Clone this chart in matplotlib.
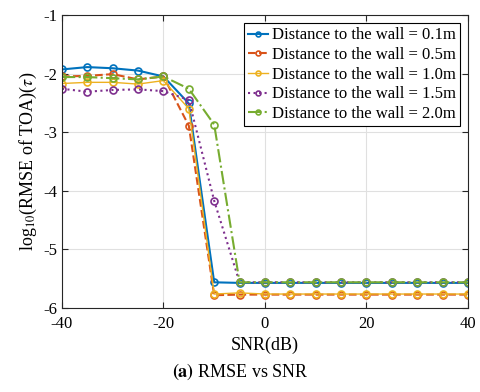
import numpy as np
import matplotlib.pyplot as plt

plt.rcParams['font.family'] = ['Liberation Serif', 'DejaVu Serif']
plt.rcParams['mathtext.fontset'] = 'stix'
plt.rcParams['axes.unicode_minus'] = False

snr = [-40, -35, -30, -25, -20, -15, -10, -5, 0, 5, 10, 15, 20, 25, 30, 35, 40]

d01 = [-1.93, -1.89, -1.91, -1.95, -2.05, -2.51, -5.56, -5.57, -5.57, -5.57, -5.57, -5.57, -5.57, -5.57, -5.57, -5.57, -5.57]
d05 = [-2.05, -2.04, -2.01, -2.10, -2.05, -2.89, -5.78, -5.77, -5.77, -5.77, -5.77, -5.77, -5.77, -5.77, -5.77, -5.77, -5.77]
d10 = [-2.17, -2.15, -2.15, -2.18, -2.12, -2.60, -5.76, -5.74, -5.76, -5.76, -5.76, -5.76, -5.76, -5.76, -5.76, -5.76, -5.76]
d15 = [-2.26, -2.31, -2.28, -2.27, -2.30, -2.45, -4.17, -5.56, -5.56, -5.56, -5.56, -5.56, -5.56, -5.56, -5.56, -5.56, -5.56]
d20 = [-2.06, -2.06, -2.08, -2.10, -2.05, -2.26, -2.87, -5.56, -5.56, -5.56, -5.56, -5.56, -5.56, -5.56, -5.56, -5.56, -5.56]

labels = ["Distance to the wall = 0.1m", "Distance to the wall = 0.5m",
          "Distance to the wall = 1.0m", "Distance to the wall = 1.5m",
          "Distance to the wall = 2.0m"]
colors = ["#0072BD", "#D95319", "#EDB120", "#7E2F8E", "#77AC30"]
styles = ["-", "--", "-", ":", "-."]
widths = [1.5, 1.5, 1.0, 1.5, 1.5]

fig = plt.figure(figsize=(4.8, 3.92), dpi=100)
ax = fig.add_axes([0.129, 0.214, 0.846, 0.748])

for y, lab, c, ls, lw in zip([d01, d05, d10, d15, d20], labels, colors, styles, widths):
    ax.plot(snr, y, linestyle=ls, color=c, lw=lw, marker='o', ms=5,
            mfc='none', mec=c, mew=1.2, label=lab)

ax.set_xlim(-40, 40)
ax.set_ylim(-6, -1)
ax.set_xticks([-40, -20, 0, 20, 40])
ax.set_yticks([-6, -5, -4, -3, -2, -1])
ax.grid(True, color='#e0e0e0', lw=0.8)
ax.set_axisbelow(True)
ax.tick_params(direction='in', top=True, right=True, labelsize=12, length=4, color='#262626')
ax.tick_params(axis='x', pad=6)
for s in ax.spines.values():
    s.set_color('#262626')
    s.set_linewidth(0.8)

ax.set_xlabel("SNR(dB)", fontsize=13, labelpad=3)
ax.set_ylabel(r"log$_{10}$(RMSE of TOA)($\tau$)", fontsize=13, labelpad=3)

leg = ax.legend(loc='upper right', fontsize=12, frameon=True, fancybox=False,
                edgecolor='black', framealpha=1, handlelength=1.2,
                handletextpad=0.2, borderpad=0.25, labelspacing=0.22,
                borderaxespad=0.5, markerscale=0.7)
leg.get_frame().set_linewidth(0.8)

fig.text(0.5, 0.04, r"$\mathbf{(a)}$ RMSE vs SNR", ha='center', fontsize=13)

fig.savefig("out.png", dpi=100)
